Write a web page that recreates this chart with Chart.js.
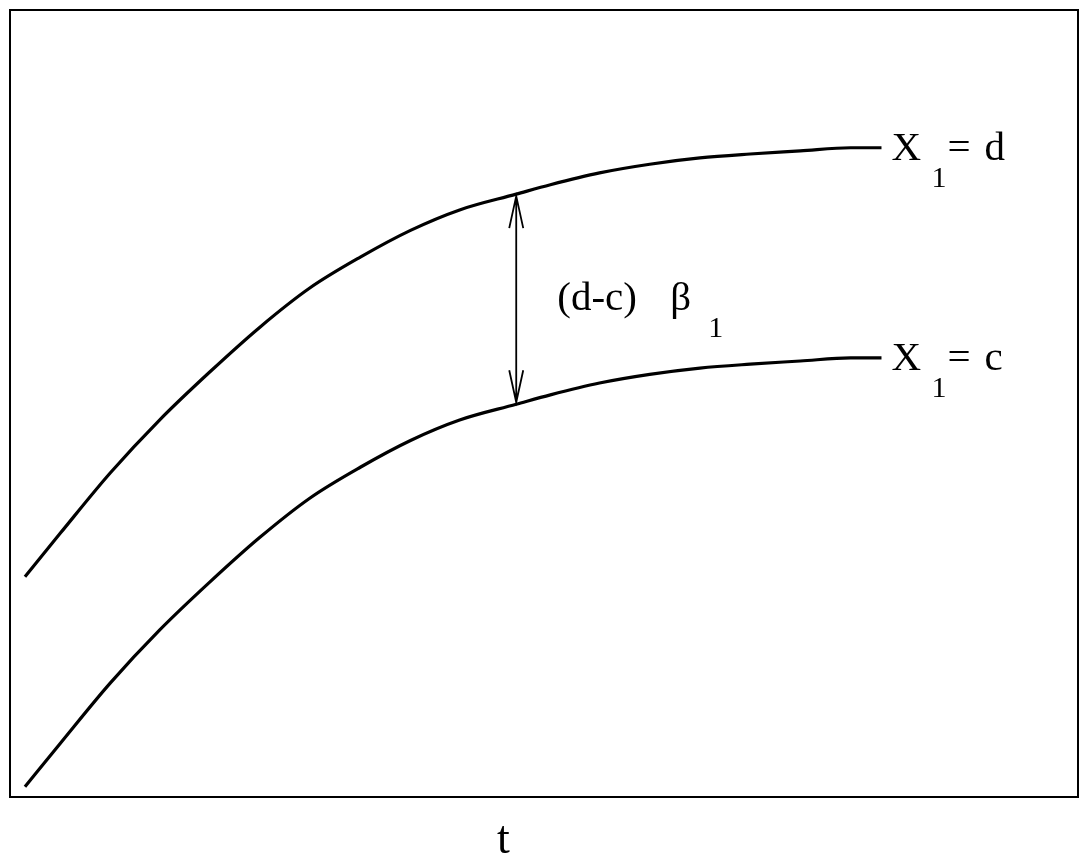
<!DOCTYPE html>
<html>
<head>
<meta charset="utf-8">
<script src="https://cdn.jsdelivr.net/npm/chart.js@4/dist/chart.umd.min.js"></script>
<style>
  body { margin: 0; background: #fff; }
  #wrap { width: 1088px; height: 858px; }
</style>
</head>
<body>
<div id="wrap"><canvas id="graph" width="1088" height="858"></canvas></div>
<script>
// time axis (0..100 across the frame) and the two response curves
const tValues = [1.4, 4.7, 9.4, 14.0, 18.7, 23.4, 28.1, 32.8, 37.5, 42.1, 47.4, 50.6, 55.2, 59.9, 64.6, 69.3, 74.0, 78.7, 81.6];
const upperValues = [28.0, 33.5, 41.2, 47.9, 54.0, 59.7, 64.7, 68.6, 72.0, 74.6, 76.6, 77.8, 79.3, 80.4, 81.2, 81.7, 82.1, 82.5, 82.5];
const lowerValues = [1.3, 6.8, 14.5, 21.2, 27.3, 33.0, 38.0, 41.9, 45.3, 47.9, 49.9, 51.1, 52.6, 53.7, 54.5, 55.0, 55.4, 55.8, 55.8];
const curveNames = ["d", "c"];
const arrowIndex = 10; // where the (d-c) β1 arrow sits
const axisLabel = "t";

const SERIF = "'Liberation Serif', 'DejaVu Serif', serif";

function toPoints(ys){
  return tValues.map((t, i) => ({ x: t, y: ys[i] }));
}

const decorations = {
  id: "decorations",
  afterDraw(chart){
    const { ctx, chartArea, scales } = chart;
    const xs = scales.x, ys = scales.y;
    ctx.save();

    // frame
    ctx.strokeStyle = "#000";
    ctx.lineWidth = 2;
    ctx.strokeRect(chartArea.left, chartArea.top, chartArea.right - chartArea.left, chartArea.bottom - chartArea.top);

    // double arrow between the curves
    const ax = xs.getPixelForValue(tValues[arrowIndex]);
    const yTop = ys.getPixelForValue(upperValues[arrowIndex]) + 2;
    const yBot = ys.getPixelForValue(lowerValues[arrowIndex]) - 2;
    ctx.lineWidth = 1.8;
    ctx.beginPath();
    ctx.moveTo(ax, yTop);
    ctx.lineTo(ax, yBot);
    ctx.moveTo(ax - 7, yTop + 32);
    ctx.lineTo(ax, yTop);
    ctx.lineTo(ax + 7, yTop + 32);
    ctx.moveTo(ax - 7, yBot - 32);
    ctx.lineTo(ax, yBot);
    ctx.lineTo(ax + 7, yBot - 32);
    ctx.stroke();

    ctx.fillStyle = "#000";
    ctx.textAlign = "left";
    ctx.textBaseline = "alphabetic";

    // (d-c) β1
    const mid = (yTop + yBot) / 2;
    ctx.font = "41px " + SERIF;
    ctx.fillText("(d-c)", ax + 41, mid + 11);
    ctx.fillText("β", ax + 154, mid + 11);
    ctx.font = "30px " + SERIF;
    ctx.fillText("1", ax + 192, mid + 38);

    // curve labels X1 = d / X1 = c
    [upperValues, lowerValues].forEach((vals, k) => {
      const last = vals.length - 1;
      const ex = xs.getPixelForValue(tValues[last]);
      const ey = ys.getPixelForValue(vals[last]);
      ctx.font = "41px " + SERIF;
      ctx.fillText("X", ex + 10, ey + 12);
      ctx.fillText("=", ex + 66, ey + 12);
      ctx.fillText(curveNames[k], ex + 103, ey + 12);
      ctx.font = "30px " + SERIF;
      ctx.fillText("1", ex + 50, ey + 39);
    });

    // axis label
    ctx.font = "46px " + SERIF;
    ctx.fillText(axisLabel, 497, 853);

    ctx.restore();
  }
};

const chart = new Chart(document.getElementById("graph"), {
  type: "line",
  data: {
    datasets: [
      {
        label: "X1 = d",
        data: toPoints(upperValues),
        borderColor: "#000",
        borderWidth: 3.2,
        pointRadius: 0,
        fill: false,
        cubicInterpolationMode: "monotone",
        borderCapStyle: "butt",
      },
      {
        label: "X1 = c",
        data: toPoints(lowerValues),
        borderColor: "#000",
        borderWidth: 3.2,
        pointRadius: 0,
        fill: false,
        cubicInterpolationMode: "monotone",
        borderCapStyle: "butt",
      }
    ]
  },
  options: {
    responsive: false,
    animation: false,
    layout: { padding: { left: 10, top: 10, right: 10, bottom: 61 } },
    scales: {
      x: { type: "linear", min: 0, max: 100, display: false },
      y: { type: "linear", min: 0, max: 100, display: false }
    },
    plugins: {
      legend: { display: false },
      tooltip: { enabled: false }
    }
  },
  plugins: [decorations]
});
</script>
</body>
</html>
